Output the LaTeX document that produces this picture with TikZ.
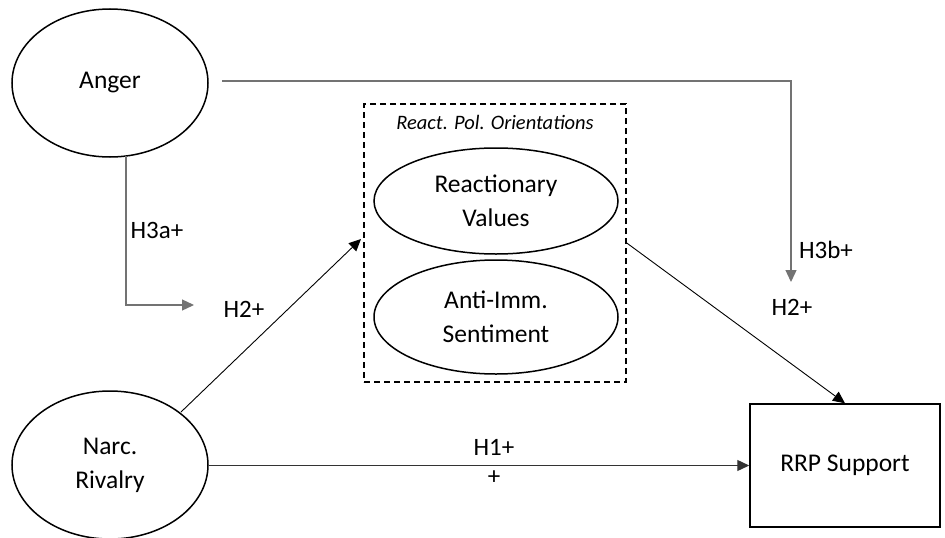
\documentclass[tikz,border=0pt]{standalone}
\usepackage{fontspec}
\setmainfont{Carlito}
\usetikzlibrary{arrows.meta,shapes.geometric}
\begin{document}
\begin{tikzpicture}[x=1pt,y=-1pt,
  lat/.style={ellipse,draw=black,line width=1.5pt,inner sep=0pt,font=\fontsize{25.5}{34}\selectfont,align=center},
  lbl/.style={font=\fontsize{25}{28}\selectfont,inner sep=0pt},
  tip/.style={-{Triangle[length=12pt,width=11pt]}},
  grayline/.style={draw=black!55,line width=1.3pt},
  thinline/.style={draw=black,line width=0.9pt}]
\useasboundingbox (0,0) rectangle (945,538);
% nodes
\node[lat,minimum width=196pt,minimum height=148pt] (anger) at (110,83) {Anger};
\node[lat,minimum width=196pt,minimum height=148pt] (narc) at (110,465) {Narc.\\Rivalry};
\node[lat,minimum width=244pt,minimum height=106pt] (rv) at (496,201) {Reactionary\\Values};
\node[lat,minimum width=244pt,minimum height=114pt] (ai) at (496,317) {Anti-Imm.\\Sentiment};
\node[draw=black,line width=1.5pt,dash pattern=on 6pt off 4pt,minimum width=262pt,minimum height=278pt,inner sep=0pt] (box) at (495,243) {};
\node[font=\fontsize{20.5}{24}\selectfont\itshape,inner sep=0pt] (title) at (495,122) {React. Pol. Orientations};
\node[draw=black,line width=1.5pt,minimum width=190pt,minimum height=123pt,inner sep=0pt,font=\fontsize{25.5}{28}\selectfont] (rrp) at (845,465.5) {RRP Support};
% coordinates
\coordinate (a1) at (222,81);
\coordinate (a2) at (791,282);
\coordinate (b1) at (126,156);
\coordinate (b2) at (194,305);
\coordinate (boxL) at (361,239);
\coordinate (n1) at (181,412);
% connectors
\draw[grayline,tip] (a1) -| (a2);
\draw[grayline,tip] (b1) |- (b2);
\draw[thinline,tip] (n1) -- (boxL);
\draw[thinline,tip] (box.east) -- (rrp.north);
\draw[draw=black!80,line width=1.3pt,tip] (narc.east|-rrp.west) -- (rrp.west);
% labels
\node[lbl] (l1) at (157,230) {H3a+};
\node[lbl] (l2) at (244,309) {H2+};
\node[lbl] (l3) at (826,250) {H3b+};
\node[lbl] (l4) at (792,307) {H2+};
\node[lbl] (l5) at (494,447) {H1+};
\node[lbl] (l6) at (494,478) {+};
\end{tikzpicture}
\end{document}
